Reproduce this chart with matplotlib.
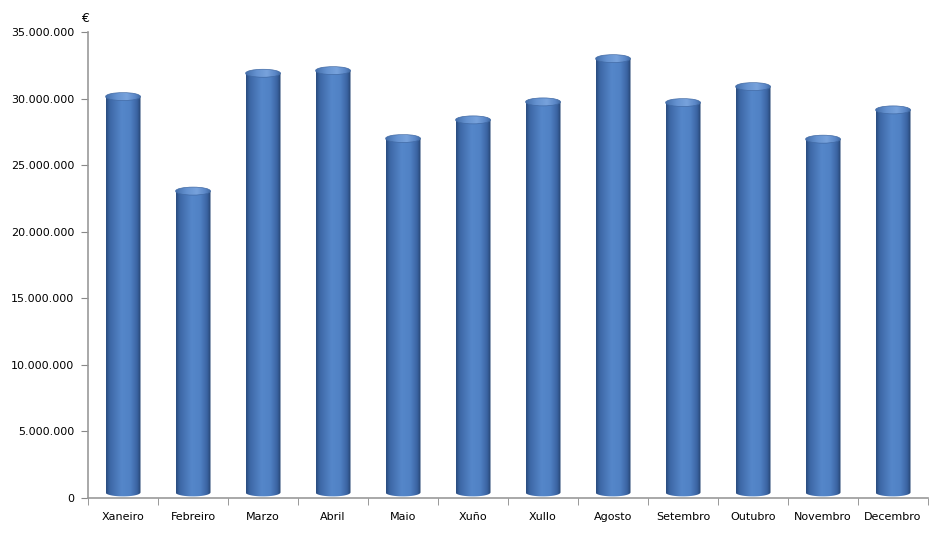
import numpy as np
import matplotlib
matplotlib.use("Agg")
import matplotlib.pyplot as plt
from matplotlib.colors import LinearSegmentedColormap
from matplotlib.patches import Polygon, Ellipse
from matplotlib.ticker import FuncFormatter, MultipleLocator

# datos mensuais (euros)
meses = ["Xaneiro", "Febreiro", "Marzo", "Abril", "Maio", "Xuño",
         "Xullo", "Agosto", "Setembro", "Outubro", "Novembro", "Decembro"]
importes = [30150000, 23050000, 31900000, 32100000, 27000000, 28400000,
            29750000, 33000000, 29700000, 30900000, 26950000, 29150000]

corpo = LinearSegmentedColormap.from_list("corpo", [
    (0.0, "#284a7c"), (0.1, "#3c66a4"), (0.45, "#5587ca"),
    (0.7, "#5081c4"), (0.9, "#3a62a0"), (1.0, "#24426e")])
tapa = LinearSegmentedColormap.from_list("tapa", [
    (0.0, "#4570ac"), (0.3, "#6592d0"), (0.6, "#78a3dc"),
    (0.85, "#5985c6"), (1.0, "#40689f")])

fig = plt.figure(figsize=(9.4, 5.38), dpi=100)
ax = fig.add_axes([88 / 940, 40 / 538, 840 / 940, 466 / 538])

w = 0.5           # ancho da barra
eh = 0.6e6        # alto da elipse
grad = np.linspace(0, 1, 256).reshape(1, -1)

for i, v in enumerate(importes):
    x0, x1 = i - w / 2, i + w / 2
    base = eh / 2 + 0.12e6
    t = np.linspace(np.pi, 2 * np.pi, 40)
    bx = i + w / 2 * np.cos(t)
    by = base + eh / 2 * np.sin(t)
    verts = [(x0, v)] + list(zip(bx, by)) + [(x1, v)]
    poly = Polygon(verts, closed=True, facecolor="none", edgecolor="none")
    ax.add_patch(poly)
    im = ax.imshow(grad, cmap=corpo, extent=(x0, x1, 0, v), aspect="auto",
                   interpolation="bicubic", zorder=2)
    im.set_clip_path(poly)

    el = Ellipse((i, v), w, eh, facecolor="none", edgecolor="none")
    ax.add_patch(el)
    im2 = ax.imshow(grad, cmap=tapa, extent=(x0, x1, v - eh / 2, v + eh / 2),
                    aspect="auto", interpolation="bicubic", zorder=3)
    im2.set_clip_path(el)
    ax.add_patch(Ellipse((i, v), w, eh, facecolor="none",
                         edgecolor="#416aa5", lw=0.5, zorder=4))

ax.set_xlim(-0.5, len(meses) - 0.5)
ax.set_ylim(0, 35e6)

ax.yaxis.set_major_locator(MultipleLocator(5e6))
ax.yaxis.set_major_formatter(FuncFormatter(lambda y, p: f"{int(y):,}".replace(",", ".")))
ax.set_xticks(range(len(meses)))
ax.set_xticklabels(meses)
ax.set_xticks(np.arange(-0.5, len(meses), 1), minor=True)
ax.tick_params(axis="x", which="major", length=0, pad=10, labelsize=8)
ax.tick_params(axis="x", which="minor", length=5, color="#888888", direction="out")
ax.tick_params(axis="y", length=5, color="#888888", labelsize=8, pad=5)

for s in ["top", "right"]:
    ax.spines[s].set_visible(False)
for s in ["left", "bottom"]:
    ax.spines[s].set_color("#999999")
    ax.spines[s].set_linewidth(1.2)

fig.text(85 / 940, 1 - 18 / 538, "€", fontsize=9, ha="center", va="center")

fig.savefig("out.png", dpi=100)
